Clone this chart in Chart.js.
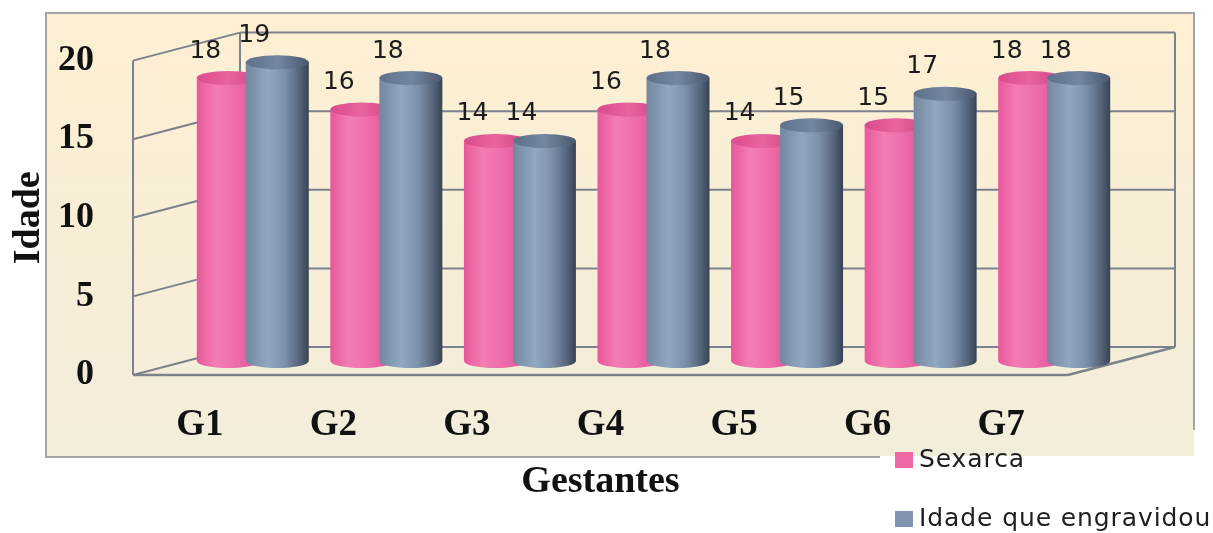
<!DOCTYPE html>
<html>
<head>
<meta charset="utf-8">
<script src="https://cdn.jsdelivr.net/npm/chart.js@4.4.1/dist/chart.umd.min.js"></script>
<style>
  html, body { margin: 0; padding: 0; background: #ffffff; }
  canvas { display: block; }
</style>
</head>
<body>
<canvas id="c" width="1213" height="533"></canvas>
<script>
// ---- data ----
const categories = ['G1', 'G2', 'G3', 'G4', 'G5', 'G6', 'G7'];
const sexarca = [18, 16, 14, 16, 14, 15, 18];
const idadeEngravidou = [19, 18, 14, 18, 15, 17, 18];
const yTicks = [0, 5, 10, 15, 20];
const seriesNames = ['Sexarca', 'Idade que engravidou'];

// ---- look ----
const SERIF = '"Liberation Serif", "Times New Roman", serif';
const SANS = '"DejaVu Sans", Verdana, sans-serif';
const DEPTH = { dx: 107, dy: -28 };   // oblique depth of the 3D box
const MID = { dx: 53, dy: -14 };      // cylinders stand halfway into the box
const CAP_RY = 7;                     // vertical radius of the cylinder ends
const swatch = ['#ee68a6', '#8194b0'];
const bodyStops = [
  [[0, '#e8579b'], [0.3, '#f27db3'], [0.6, '#ef6dab'], [1, '#dd5096']],
  [[0, '#74879f'], [0.35, '#91a7c2'], [0.62, '#7d90aa'], [0.85, '#56657b'], [1, '#384354']]
];
const capStops = [
  [[0, '#da4b8c'], [0.5, '#e9649f'], [1, '#cf4484']],
  [[0, '#5e708a'], [0.5, '#7487a1'], [1, '#4a586e']]
];

function grad(ctx, x0, x1, stops) {
  const g = ctx.createLinearGradient(x0, 0, x1, 0);
  stops.forEach(([o, c]) => g.addColorStop(o, c));
  return g;
}

// cream panel behind the whole plot
const panel = {
  id: 'panel',
  beforeDraw(chart) {
    const { ctx } = chart;
    ctx.save();
    const g = ctx.createLinearGradient(0, 13, 0, 457);
    g.addColorStop(0, '#fdefd2');
    g.addColorStop(1, '#f2eddb');
    ctx.fillStyle = g;
    ctx.fillRect(46, 13, 1148, 444);
    ctx.strokeStyle = '#a3a3a3';
    ctx.lineWidth = 2;
    ctx.beginPath();
    ctx.moveTo(1194, 430);
    ctx.lineTo(1194, 13);
    ctx.lineTo(46, 13);
    ctx.lineTo(46, 457);
    ctx.lineTo(1194, 457);
    ctx.stroke();
    ctx.restore();
  }
};

// 3D walls, floor and the cylinders
const box3d = {
  id: 'box3d',
  beforeDatasetsDraw(chart) {
    const { ctx, chartArea: a, scales: { y } } = chart;
    const L = a.left, R = a.right;
    const B = y.getPixelForValue(0), T = y.getPixelForValue(20);
    const dx = DEPTH.dx, dy = DEPTH.dy;
    const line = (x0, y0, x1, y1) => { ctx.beginPath(); ctx.moveTo(x0, y0); ctx.lineTo(x1, y1); ctx.stroke(); };

    ctx.save();
    ctx.strokeStyle = '#7c818b';
    ctx.lineWidth = 2;
    yTicks.forEach(v => {
      const py = y.getPixelForValue(v);
      line(L, py, L + dx, py + dy);
      line(L + dx, py + dy, R + dx, py + dy);
    });
    line(L, T, L, B);
    line(L + dx, T + dy, L + dx, B + dy);
    line(R + dx, T + dy, R + dx, B + dy);
    ctx.lineWidth = 2.4;
    line(L, B, R, B);
    line(R, B, R + dx, B + dy);
    ctx.restore();

    // cylinders, first series behind the second
    chart.data.datasets.forEach((ds, di) => {
      const meta = chart.getDatasetMeta(di);
      meta.data.forEach(el => {
        const { x, y: top, base, width } = el.getProps(['x', 'y', 'base', 'width'], true);
        const l = x - width / 2, r = x + width / 2;
        ctx.save();
        ctx.translate(MID.dx, MID.dy);
        const body = grad(ctx, l, r, bodyStops[di]);
        el.options.backgroundColor = body;
        el.options.borderWidth = 0;
        el.draw(ctx);
        // rounded bottom
        ctx.beginPath();
        ctx.ellipse(x, base, width / 2, CAP_RY, 0, Math.PI, 0, true);
        ctx.closePath();
        ctx.fillStyle = body;
        ctx.fill();
        // top cap
        ctx.beginPath();
        ctx.ellipse(x, top, width / 2, CAP_RY, 0, 0, Math.PI * 2);
        ctx.fillStyle = grad(ctx, l, r, capStops[di]);
        ctx.fill();
        ctx.restore();
      });
    });
    return false;
  }
};

// value labels above the cylinders
const valueLabels = {
  id: 'valueLabels',
  afterDraw(chart) {
    const { ctx } = chart;
    ctx.save();
    ctx.font = '25px ' + SANS;
    ctx.fillStyle = '#1c1c1c';
    ctx.textAlign = 'center';
    ctx.textBaseline = 'middle';
    chart.data.datasets.forEach((ds, di) => {
      chart.getDatasetMeta(di).data.forEach((el, i) => {
        ctx.fillText(String(ds.data[i]), el.x + MID.dx - 23, el.y + MID.dy - 27);
      });
    });
    ctx.restore();
  }
};

// legend in the lower right corner
const legendBox = {
  id: 'legendBox',
  afterDraw(chart) {
    const { ctx } = chart;
    ctx.save();
    ctx.fillStyle = '#ffffff';
    ctx.fillRect(880, 456, 333, 77);
    ctx.font = '25px ' + SANS;
    ctx.letterSpacing = '0.9px';
    ctx.textBaseline = 'middle';
    ctx.textAlign = 'left';
    const rows = [460, 519];
    chart.data.datasets.forEach((ds, di) => {
      ctx.fillStyle = swatch[di];
      ctx.fillRect(895, rows[di] - 8, 18, 16);
      ctx.fillStyle = '#1e1e1e';
      ctx.fillText(ds.label, 919, rows[di]);
    });
    ctx.restore();
  }
};

new Chart(document.getElementById('c'), {
  type: 'bar',
  data: {
    labels: categories,
    datasets: [
      { label: seriesNames[0], data: sexarca, backgroundColor: swatch[0] },
      { label: seriesNames[1], data: idadeEngravidou, backgroundColor: swatch[1] }
    ]
  },
  options: {
    responsive: false,
    animation: false,
    layout: { padding: { top: 53, right: 145, bottom: 0, left: 0 } },
    datasets: { bar: { categoryPercentage: 0.7335, barPercentage: 1.286, borderWidth: 0 } },
    plugins: { legend: { display: false }, tooltip: { enabled: false } },
    scales: {
      x: {
        grid: { display: false, drawTicks: false },
        border: { display: false },
        ticks: { font: { family: SERIF, size: 37, weight: 'bold' }, color: '#111111', padding: 28 },
        title: {
          display: true, text: 'Gestantes', color: '#111111',
          font: { family: SERIF, size: 38, weight: 'bold' },
          padding: { top: 0, bottom: 28 }
        },
        afterFit(s) { s.height = 158; }
      },
      y: {
        min: 0, max: 20,
        afterBuildTicks(s) { s.ticks = yTicks.map(v => ({ value: v })); },
        grid: { display: false, drawTicks: false },
        border: { display: false },
        ticks: { font: { family: SERIF, size: 36, weight: 'bold' }, color: '#111111', padding: 39 },
        title: {
          display: true, text: 'Idade', color: '#111111',
          font: { family: SERIF, size: 38, weight: 'bold' },
          padding: { top: 6, bottom: 0 }
        },
        afterFit(s) { s.width = 133; }
      }
    }
  },
  plugins: [panel, box3d, valueLabels, legendBox]
});
</script>
</body>
</html>
